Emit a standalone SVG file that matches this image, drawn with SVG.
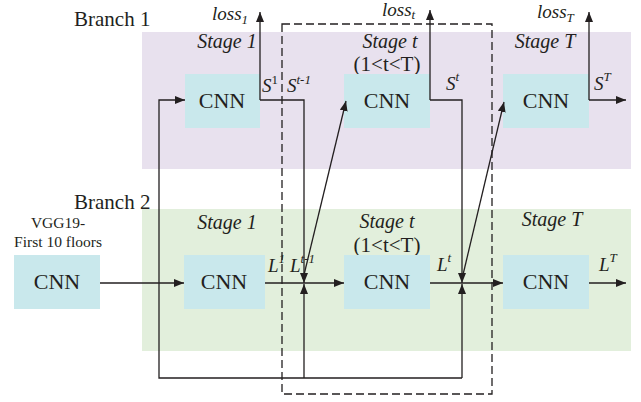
<svg xmlns="http://www.w3.org/2000/svg" width="641" height="402" viewBox="0 0 641 402">
<defs>
<style>
.t{font-family:"Liberation Serif","Times New Roman",serif;fill:#231f20}
.br{font-size:21px}
.cnn{font-size:22px;text-anchor:middle}
.st{font-size:20px;font-style:italic;text-anchor:middle}
.rg{font-size:21px;text-anchor:middle}
.vgg{font-size:15.5px;text-anchor:middle}
.lab{font-size:19px;font-style:italic}
.sup{font-size:13px}
.up{font-style:normal}
.box{fill:#c9e8ec}
.ln{fill:none;stroke:#231f20;stroke-width:1.3}
.arr{marker-end:url(#ah)}
.dash{fill:none;stroke:#231f20;stroke-width:1.3;stroke-dasharray:8,4}
</style>
<marker id="ah" markerUnits="userSpaceOnUse" markerWidth="10" markerHeight="8" refX="10" refY="4" orient="auto">
<path d="M0,0 L10,4 L0,8 z" fill="#231f20"/>
</marker>
</defs>
<rect width="641" height="402" fill="#ffffff"/>
<g id="branch1-band"><rect x="142" y="32" width="489" height="137" fill="#e8e1ee"/></g>
<g id="branch2-band"><rect x="142" y="209" width="489" height="142" fill="#e2efdc"/></g>
<g id="labels">
<text class="t br" x="74" y="26">Branch 1</text>
<text class="t br" x="74" y="209">Branch 2</text>
<text class="t st" x="227" y="48">Stage 1</text>
<text class="t st" x="390" y="48">Stage t</text>
<text class="t rg" x="387" y="71">(1&lt;t&lt;T)</text>
<text class="t st" x="545" y="48">Stage T</text>
<text class="t st" x="227" y="229">Stage 1</text>
<text class="t st" x="387" y="228">Stage t</text>
<text class="t rg" x="387" y="252">(1&lt;t&lt;T)</text>
<text class="t st" x="552" y="226">Stage T</text>
<text class="t vgg" x="58" y="228">VGG19-</text>
<text class="t vgg" x="58" y="247">First 10 floors</text>
<text class="t lab" x="212" y="20">loss<tspan class="sup" dy="4">1</tspan></text>
<text class="t lab" x="382" y="16">loss<tspan class="sup" dy="3">t</tspan></text>
<text class="t lab" x="537" y="18">loss<tspan class="sup" dy="4">T</tspan></text>
<text class="t lab" x="262" y="92">S<tspan class="sup up" dy="-8">1</tspan></text>
<text class="t lab" x="287" y="92">S<tspan class="sup" dy="-8">t-1</tspan></text>
<text class="t lab" x="446" y="90">S<tspan class="sup" dy="-9">t</tspan></text>
<text class="t lab" x="594" y="90">S<tspan class="sup" dy="-9">T</tspan></text>
<text class="t lab" x="268" y="272">L<tspan class="sup" dy="-9">1</tspan></text>
<text class="t lab" x="290" y="272">L<tspan class="sup" dy="-9">t-1</tspan></text>
<text class="t lab" x="437" y="271">L<tspan class="sup" dy="-9">t</tspan></text>
<text class="t lab" x="599" y="271">L<tspan class="sup" dy="-9">T</tspan></text>
</g>
<g id="cnn-b1-s1"><rect class="box" x="185" y="74" width="75" height="54"/><text class="t cnn" x="222" y="108">CNN</text></g>
<g id="cnn-b1-st"><rect class="box" x="344" y="74" width="86" height="54"/><text class="t cnn" x="387" y="108">CNN</text></g>
<g id="cnn-b1-sT"><rect class="box" x="503" y="74" width="86" height="54"/><text class="t cnn" x="546" y="108">CNN</text></g>
<g id="cnn-vgg"><rect class="box" x="14" y="255" width="86" height="54"/><text class="t cnn" x="57" y="289">CNN</text></g>
<g id="cnn-b2-s1"><rect class="box" x="184" y="255" width="81" height="54"/><text class="t cnn" x="224" y="289">CNN</text></g>
<g id="cnn-b2-st"><rect class="box" x="344" y="255" width="86" height="54"/><text class="t cnn" x="387" y="289">CNN</text></g>
<g id="cnn-b2-sT"><rect class="box" x="503" y="255" width="86" height="54"/><text class="t cnn" x="546" y="289">CNN</text></g>
<g id="stage-t-frame"><rect class="dash" x="282" y="24" width="210" height="370"/></g>
<g id="connectors">
<path class="ln arr" d="M260,100 V12"/>
<path class="ln arr" d="M260,100 H304 V283"/>
<path class="ln arr" d="M430,100 V10"/>
<path class="ln arr" d="M430,100 H462 V283"/>
<path class="ln arr" d="M589,100 V12"/>
<path class="ln arr" d="M589,100 H626"/>
<path class="ln arr" d="M462,378 H159 V100 H185"/>
<path class="ln arr" d="M304,378 V284"/>
<path class="ln arr" d="M462,378 V284"/>
<path class="ln arr" d="M303,279 L346,101"/>
<path class="ln arr" d="M462,279 L504,102"/>
<path class="ln arr" d="M100,283 H184"/>
<path class="ln arr" d="M265,283 H344"/>
<path class="ln arr" d="M430,283 H503"/>
<path class="ln arr" d="M589,283 H626"/>
</g>
</svg>
